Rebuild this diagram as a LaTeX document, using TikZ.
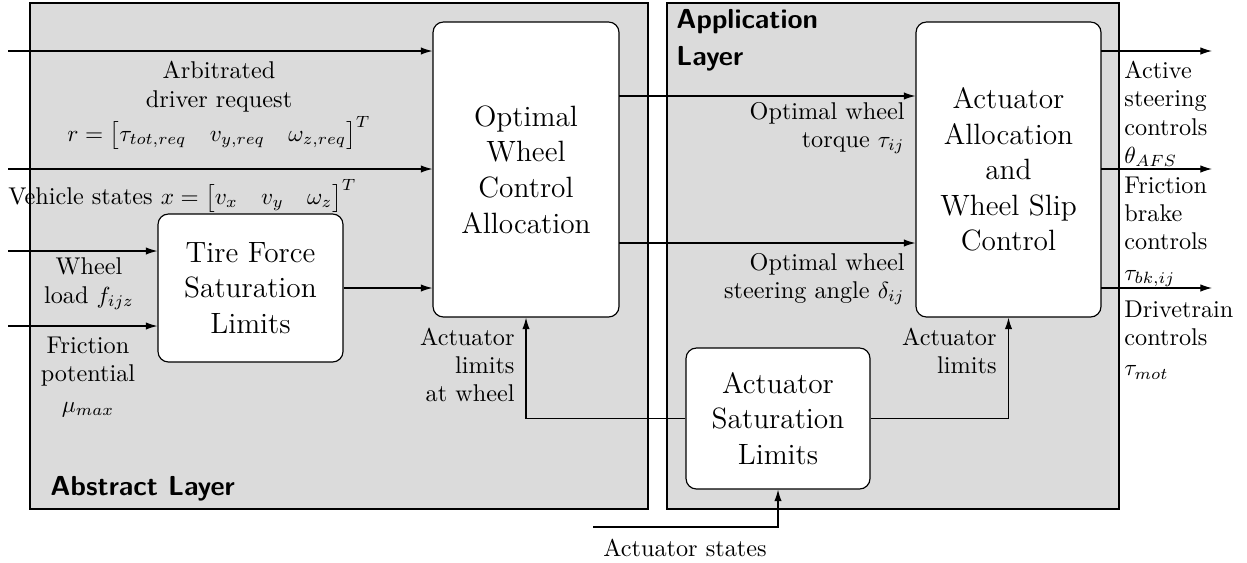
\documentclass[tikz,border=0pt]{standalone}
\usepackage{amsmath}
\usetikzlibrary{arrows.meta,fit}
\begin{document}
\begin{tikzpicture}[x=0.4292pt,y=-0.4292pt,
  layer/.style={draw=black,fill=black!14,line width=0.5pt},
  blk/.style={draw=black,fill=white,rounded corners=4.5pt,line width=0.5pt,inner sep=0pt},
  btxt/.style={inner sep=0pt,align=center,font=\fontsize{12.6pt}{15.3pt}\selectfont},
  arr/.style={-{Latex[length=5pt,width=3.2pt]},line width=0.5pt},
  lbl/.style={inner sep=0pt,font=\fontsize{10.4pt}{12.1pt}\selectfont},
  ltitle/.style={inner sep=0pt,font=\sffamily\bfseries\fontsize{11.8pt}{16pt}\selectfont,align=left}]
\useasboundingbox (0,0) rectangle (1247,562);
% layers
\draw[layer] (30,3) rectangle (648,509);
\draw[layer] (667,3) rectangle (1119,509);
\node[ltitle,anchor=west] (abs) at (50,489) {Abstract Layer};
\node[ltitle,anchor=north west] (app) at (676,9) {Application\\Layer};
% blocks
\node[blk,fit={(433,22) (619,317)}] (opt) {};
\node[btxt] at (opt.center) {Optimal\\Wheel\\Control\\Allocation};
\node[blk,fit={(916,22) (1101,317)}] (act) {};
\node[btxt] at (act.center) {Actuator\\Allocation\\and\\Wheel Slip\\Control};
\node[blk,fit={(158,214) (343,362)}] (tire) {};
\node[btxt] at (tire.center) {Tire Force\\Saturation\\Limits};
\node[blk,fit={(686,348) (870,489)}] (sat) {};
\node[btxt] at (sat.center) {Actuator\\Saturation\\Limits};
% inputs
\coordinate (in1) at (8,51);
\coordinate (in2) at (8,169);
\coordinate (in3) at (8,251);
\coordinate (in4) at (8,326);
\draw[arr] (in1) -- (in1 -| opt.west);
\draw[arr] (in2) -- (in2 -| opt.west);
\draw[arr] (in3) -- (in3 -| tire.west);
\draw[arr] (in4) -- (in4 -| tire.west);
\draw[arr] (tire.east) -- (tire.east -| opt.west);
% opt -> act
\coordinate (m1) at (619,96);
\coordinate (m2) at (619,243);
\draw[arr] (m1) -- (m1 -| act.west);
\draw[arr] (m2) -- (m2 -| act.west);
% outputs
\coordinate (o1) at (1101,51);
\coordinate (o2) at (1101,169);
\coordinate (o3) at (1101,288);
\coordinate (e1) at (1212,51);
\coordinate (e2) at (1212,169);
\coordinate (e3) at (1212,288);
\draw[arr] (o1) -- (e1);
\draw[arr] (o2) -- (e2);
\draw[arr] (o3) -- (e3);
% actuator limits
\draw[arr] (sat.west) -| (opt.south);
\draw[arr] (sat.east) -| (act.south);
\coordinate (st) at (593,527);
\draw[arr] (st) -| (sat.south);
% labels
\node[lbl,align=center,anchor=north] (l1) at (219,61) {Arbitrated\\driver request\\[1pt]$r=\begin{bmatrix}\tau_{tot,req} & v_{y,req} & \omega_{z,req}\end{bmatrix}^T$};
\node[lbl,anchor=west] (l2) at (8,196) {Vehicle states $x=\begin{bmatrix}v_x & v_y & \omega_z\end{bmatrix}^T$};
\node[lbl,align=center] (l3) at (89,284) {Wheel\\load $f_{ijz}$};
\node[lbl,align=center] (l4) at (88,377) {Friction\\potential\\[1pt]$\mu_{max}$};
\node[lbl,align=right,anchor=east] (l5) at (515,365) {Actuator\\limits\\at wheel};
\node[lbl,align=right,anchor=east] (l6) at (905,128) {Optimal wheel\\torque $\tau_{ij}$};
\node[lbl,align=right,anchor=east] (l7) at (905,279) {Optimal wheel\\steering angle $\delta_{ij}$};
\node[lbl,align=right,anchor=east] (l8) at (997,351) {Actuator\\limits};
\node[lbl,align=left,anchor=west] (l9) at (1124,114) {Active\\steering\\controls\\$\theta_{AFS}$};
\node[lbl,align=left,anchor=west] (l10) at (1124,232) {Friction\\brake\\controls\\[1pt]$\tau_{bk,ij}$};
\node[lbl,align=left,anchor=west] (l11) at (1124,340) {Drivetrain\\controls\\[1pt]$\tau_{mot}$};
\node[lbl] (l12) at (685,548) {Actuator states};
\end{tikzpicture}
\end{document}
